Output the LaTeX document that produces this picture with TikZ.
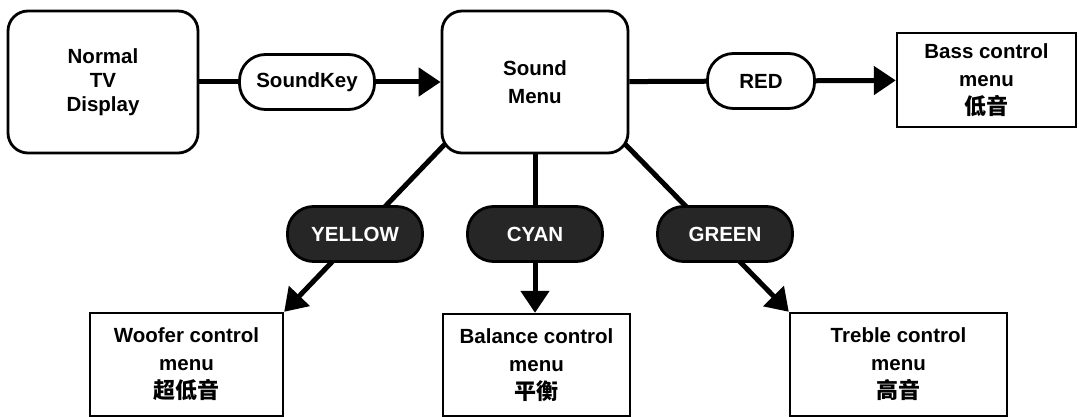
\documentclass[tikz,border=0pt]{standalone}
\usepackage{fontspec}
\setmainfont{Liberation Sans}
\newfontfamily\cjk{Noto Sans CJK SC}
\usetikzlibrary{arrows.meta,calc}
\newcommand{\cjkt}[1]{{\cjk\fontsize{22}{28}\selectfont #1}}
\begin{document}
\begin{tikzpicture}[x=1pt,y=-1pt,
  every node/.style={font=\fontsize{20.5}{28}\selectfont\bfseries, align=center},
  roundbox/.style={draw, line width=2.8pt, rounded corners=20pt, inner sep=0pt},
  menubox/.style={draw, line width=2.4pt, inner sep=0pt},
  pill/.style={draw, line width=2.8pt, rounded corners=26pt, minimum width=135pt, minimum height=55pt, inner sep=0pt},
  lightpill/.style={pill, fill=white},
  darkpill/.style={pill, fill=black!85, text=white},
  conn/.style={line width=5pt, -{Triangle[length=22pt,width=28pt]}}]
\useasboundingbox (0,0) rectangle (1079,417);
% boxes
\node[roundbox, minimum width=190pt, minimum height=142pt, font=\fontsize{20.5}{24}\selectfont\bfseries] (normal) at (103,82) {Normal\\TV\\Display};
\node[roundbox, minimum width=186pt, minimum height=142pt] (sound) at (535,82) {Sound\\Menu};
\node[menubox, minimum width=179pt, minimum height=94pt] (bass) at (986.5,80) {Bass control\\menu\\\cjkt{低音}};
\node[menubox, minimum width=193pt, minimum height=103pt] (woofer) at (186.5,364.5) {Woofer control\\menu\\\cjkt{超低音}};
\node[menubox, minimum width=187pt, minimum height=102pt] (balance) at (536.5,365) {Balance control\\menu\\\cjkt{平衡}};
\node[menubox, minimum width=217pt, minimum height=103pt] (treble) at (898.5,364.5) {Treble control\\menu\\\cjkt{高音}};
% connectors
\coordinate (sl) at ($(sound.south west)+(5,-11)$);
\coordinate (sr) at ($(sound.south east)+(-5,-11)$);
\draw[conn] (normal) -- (sound);
\draw[conn] (sound) -- (bass);
\draw[conn] (sl) -- (woofer.north east);
\draw[conn] (sound.south) -- (sound.south |- balance.north);
\draw[conn] (sr) -- (treble.north west);
% key labels
\node[lightpill] (sk) at (307,82) {SoundKey};
\node[lightpill, minimum width=107pt] (red) at (761,81) {RED};
\node[darkpill] (yellow) at (355,234) {YELLOW};
\node[darkpill] (cyan) at (535,234) {CYAN};
\node[darkpill] (green) at (725,234) {GREEN};
\end{tikzpicture}
\end{document}
